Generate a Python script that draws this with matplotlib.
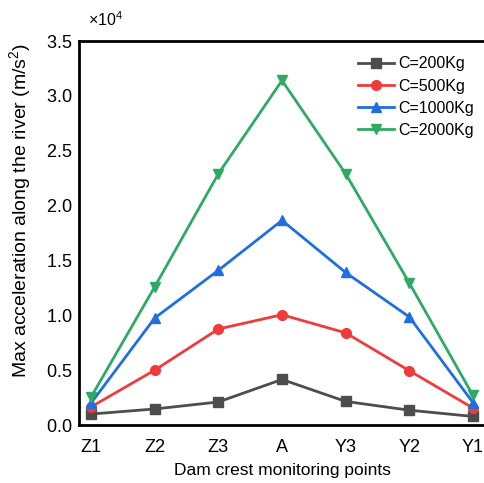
import matplotlib
matplotlib.use("Agg")
import matplotlib.pyplot as plt
from matplotlib.ticker import ScalarFormatter

plt.rcParams['font.family'] = ['Liberation Sans', 'DejaVu Sans']
plt.rcParams['mathtext.fontset'] = 'custom'
plt.rcParams['mathtext.rm'] = 'Liberation Sans'
plt.rcParams['mathtext.it'] = 'Liberation Sans'

points = ["Z1", "Z2", "Z3", "A", "Y3", "Y2", "Y1"]
c200 = [1000, 1460, 2100, 4150, 2150, 1350, 780]
c500 = [1650, 5000, 8750, 10050, 8400, 4950, 1550]
c1000 = [2000, 9750, 14100, 18650, 13900, 9850, 2050]
c2000 = [2550, 12600, 22900, 31400, 22900, 12950, 2700]
labels = ["C=200Kg", "C=500Kg", "C=1000Kg", "C=2000Kg"]
colors = ["#4d4d4d", "#ef3b3b", "#1f6fe0", "#2eaa64"]
markers = ["s", "o", "^", "v"]

fig = plt.figure(figsize=(4.84, 4.83), dpi=100)
ax = fig.add_axes([79/484, 1-425/483, 406/484, 384/483])
x = list(range(len(points)))
for ys, lab, col, mk in zip([c200, c500, c1000, c2000], labels, colors, markers):
    ax.plot(x, ys, color=col, marker=mk, markersize=7, linewidth=2, label=lab)

ax.set_xlim(-0.19, 6.19)
ax.set_ylim(0, 35000)
ax.set_yticks([0, 5000, 10000, 15000, 20000, 25000, 30000, 35000])
ax.set_xticks(x)
ax.set_xticklabels(points)
fmt = ScalarFormatter(useMathText=True)
fmt.set_powerlimits((0, 0))
ax.yaxis.set_major_formatter(fmt)
ax.yaxis.get_offset_text().set_visible(False)
fig.text(88/484, 1-20/483, r"×10$^4$", fontsize=11.5, ha="left", va="center")
ax.tick_params(axis="y", length=0, labelsize=13, pad=5)
ax.tick_params(axis="x", length=0, labelsize=13, pad=10)
for s in ax.spines.values():
    s.set_linewidth(2)
ax.spines['right'].set_visible(False)

ax.set_xlabel("Dam crest monitoring points", fontsize=12.5, labelpad=5)
ax.set_ylabel("Max acceleration along the river (m/s$^2$)", fontsize=14)
ax.yaxis.set_label_coords(-0.113, 0.56)
ax.legend(loc="upper left", frameon=False, fontsize=11.5, handlelength=2.2,
          handletextpad=0.3, labelspacing=0.45, borderaxespad=0,
          bbox_to_anchor=((352-79)/406, (425-50)/384))

fig.savefig("out.png", dpi=100)
